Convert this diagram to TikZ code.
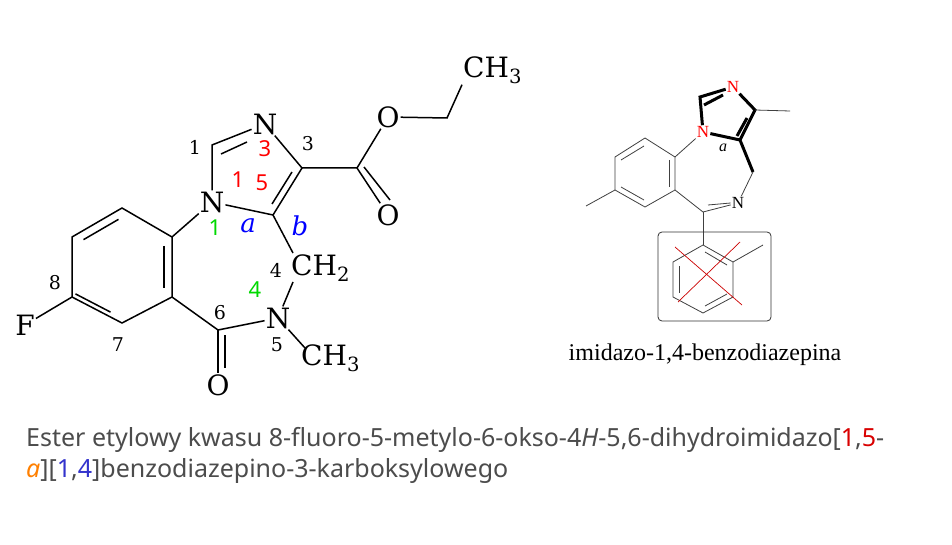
\documentclass[tikz,border=0pt]{standalone}
\usepackage{fontspec}
\usetikzlibrary{calc}
\setmainfont{DejaVu Serif}
\newfontfamily\capfont{Noto Sans}
\newfontfamily\lblfont{Liberation Serif}
\begin{document}
\begin{tikzpicture}[x=1pt,y=-1pt,
  bd/.style={line width=1.5pt},
  tb/.style={line width=3pt},
  atm/.style={font=\fontsize{28}{28}\selectfont,inner sep=1pt},
  num/.style={font=\fontsize{19}{19}\selectfont,inner sep=0pt},
  sat/.style={font=\fontsize{22}{22}\selectfont,inner sep=0.5pt}]
\fill[white] (0,0) rectangle (952,545);
\useasboundingbox (0,0) rectangle (952,545);
% ===== left molecule
\coordinate (b1) at (172,237); \coordinate (b2) at (172,297); \coordinate (b3) at (122,323);
\coordinate (b4) at (72,297); \coordinate (b5) at (72,237); \coordinate (b6) at (122,208);
\node[atm] (N1) at (212,202) {N};
\coordinate (C1) at (212,145);
\node[atm] (N3) at (265,124) {N};
\coordinate (C3) at (302,168);
\coordinate (C3a) at (273,215);
\node[atm,anchor=west] (CH2) at (290,268) {CH\textsubscript{2}};
\node[atm] (N5) at (278,318) {N};
\node[atm,anchor=west] (Me) at (300,358) {CH\textsubscript{3}};
\coordinate (C6) at (218,330);
\node[atm] (O6) at (218,385) {O};
\node[atm] (F) at (25,325) {F};
\coordinate (Ce) at (357,168);
\node[atm] (Oe) at (388,117) {O};
\node[atm] (Od) at (388,215) {O};
\coordinate (Cet) at (447,118);
\node[atm,anchor=west] (Et) at (462,70) {CH\textsubscript{3}};
\draw[bd] (b1)--(b2)--(b3)--(b4)--(b5)--(b6)--cycle;
\draw[bd] ($(b1)!0.15!(b2)+(-8,0)$)--($(b1)!0.85!(b2)+(-8,0)$);
\draw[bd] ($(b3)!0.15!(b4)+(-4,-7)$)--($(b3)!0.85!(b4)+(-4,-7)$);
\draw[bd] ($(b5)!0.15!(b6)+(4,7)$)--($(b5)!0.85!(b6)+(4,7)$);
\draw[bd] (b1)--(N1); \draw[bd] (N1)--(C1)--(N3); \draw[bd] (221,154)--(247,142);
\draw[bd] (N3)--(C3)--(C3a)--(N1);
\draw[bd] (292,172)--(272,204);
\draw[bd] (C3a)--(293,253);
\draw[bd] (293,282)--(N5); \draw[bd] (N5)--(C6)--(b2);
\draw[bd] (N5)--(305,348);
\draw[bd] (C6)--(O6); \draw[bd] (225,335)--(225,368);
\draw[bd] (b4)--(F);
\draw[bd] (C3)--(Ce)--(Oe); \draw[bd] (Ce)--(Od); \draw[bd] (364,167)--(390,200);
\draw[bd] (Oe)--(Cet)--(Et.south west);
\node[num] (l1) at (195,147) {1};
\node[num] (l3) at (308,144) {3};
\node[num] (l4) at (276,270) {4};
\node[num] (l5) at (277,345) {5};
\node[num] (l6) at (220,313) {6};
\node[num] (l7) at (118,345) {7};
\node[num] (l8) at (55,283) {8};
\node[sat,text=red] (r3) at (265,149) {\capfont 3};
\node[sat,text=red] (r1) at (238,180) {\capfont 1};
\node[sat,text=red] (r5) at (262,183) {\capfont 5};
\node[sat,text=green!85!black] (g1) at (215,228) {\capfont 1};
\node[sat,text=green!85!black] (g4) at (255,290) {\capfont 4};
\node[font=\fontsize{26}{26}\selectfont\itshape,text=blue] (ba) at (248,226) {a};
\node[font=\fontsize{26}{26}\selectfont\itshape,text=blue] (bb) at (300,226) {b};
% ===== right molecule
\tikzset{at2/.style={font=\fontsize{17}{17}\lblfont,inner sep=1pt}, th/.style={line width=0.8pt,black!75}}
\node[at2,text=red] (rN3) at (733,87) {N};
\node[at2,text=red] (rN1) at (703,132) {N};
\node[at2] (rN) at (738,203) {N};
\coordinate (rC2) at (700,97); \coordinate (rC4) at (755,110); \coordinate (rC5) at (740,140);
\coordinate (rCH) at (753,172); \coordinate (rC) at (703,212);
\coordinate (q1) at (675,157); \coordinate (q2) at (645,138); \coordinate (q3) at (615,157);
\coordinate (q4) at (615,190); \coordinate (q5) at (645,207); \coordinate (q6) at (675,190);
\draw[tb] (rN1)--(rC2)--(rN3); \draw[tb] (704,105)--(723,95);
\draw[tb] (rN3)--(rC4)--(rC5)--(rCH); \draw[tb] (rC5)--(rN1);
\draw[tb] (747,118)--(737,136);
\draw[th] (rC4)--(790,111);
\draw[th] (rCH)--(rN); \draw[th] (rN)--(rC); \draw[th] (708,205)--(rN.west);
\draw[th] (q1)--(q2)--(q3)--(q4)--(q5)--(q6)--cycle;
\draw[th] (669,160)--(669,187); \draw[th] (621,160)--(644,146); \draw[th] (621,187)--(644,200);
\draw[th] (q1)--(rN1); \draw[th] (q6)--(rC); \draw[th] (q4)--(586,206);
\node[font=\fontsize{16}{16}\lblfont\itshape] (ra) at (723,148) {a};
\coordinate (p1) at (703,245); \coordinate (p2) at (733,262); \coordinate (p3) at (733,297);
\coordinate (p4) at (703,313); \coordinate (p5) at (673,297); \coordinate (p6) at (673,262);
\draw[th] (rC)--(p1); \draw[th] (p1)--(p2)--(p3)--(p4)--(p5)--(p6)--cycle;
\draw[th] (705,252)--(727,265); \draw[th] (679,266)--(679,293); \draw[th] (705,306)--(727,294);
\draw[th] (p2)--(763,245);
\draw[red!80!black,line width=0.7pt] (675,247)--(742,305); \draw[red!80!black,line width=0.7pt] (740,242)--(678,302);
\draw[line width=0.8pt,black!80,rounded corners=4pt] (658,232) rectangle (771,321);
\node[font=\fontsize{24}{24}\lblfont] (cap2) at (705,355) {imidazo-1,4-benzodiazepina};
% ===== caption
\node[anchor=west,font=\fontsize{25}{31}\capfont,text=black!70,align=left,inner sep=0pt] (cap) at (26,455)
 {Ester etylowy kwasu 8-fluoro-5-metylo-6-okso-4\textit{H}-5,6-dihydroimidazo[\textcolor{red!85!black}{1},\textcolor{red!85!black}{5}-\\
 \textcolor{orange}{\textit{a}}][\textcolor{blue!60!gray}{1},\textcolor{blue!60!gray}{4}]benzodiazepino-3-karboksylowego};
\end{tikzpicture}
\end{document}
